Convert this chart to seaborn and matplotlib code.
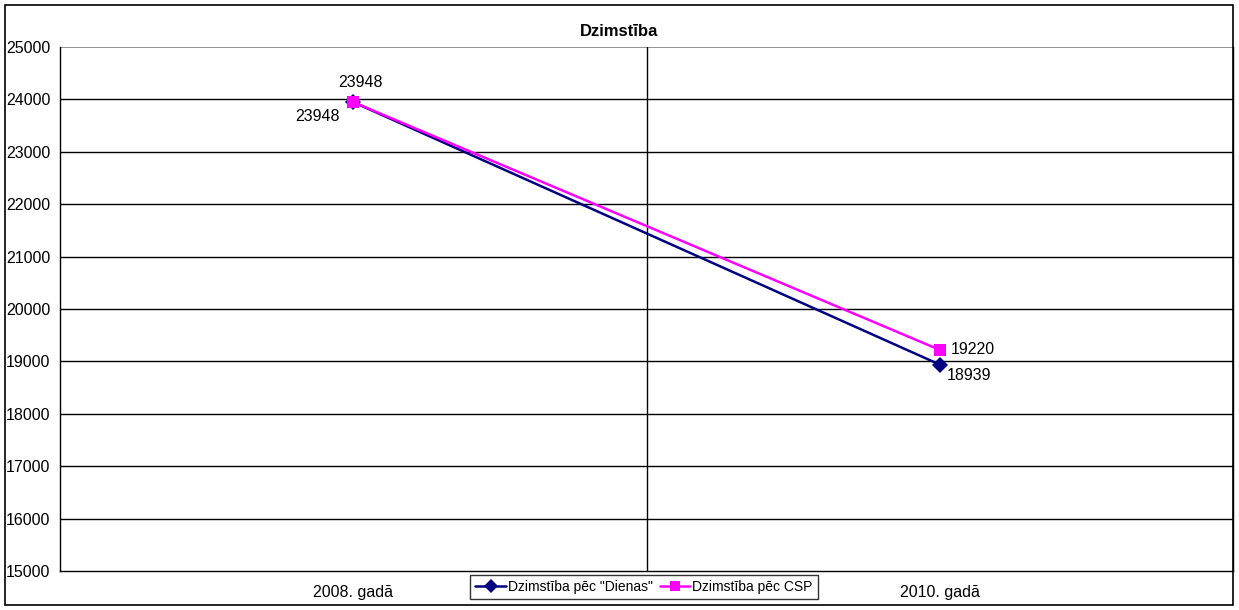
import matplotlib
matplotlib.use("Agg")
import matplotlib.pyplot as plt
import seaborn as sns
import pandas as pd
from matplotlib.patches import Rectangle
from matplotlib.lines import Line2D

categories = ["2008. gadā", "2010. gadā"]
dienas = [23948, 18939]
csp = [23948, 19220]
series_names = ['Dzimstība pēc "Dienas"', "Dzimstība pēc CSP"]
yticks = list(range(15000, 25001, 1000))

sns.set_theme(style="white")
plt.rcParams['font.family'] = ['Liberation Sans', 'DejaVu Sans']
plt.rcParams['text.color'] = 'black'
plt.rcParams['xtick.color'] = 'black'
plt.rcParams['ytick.color'] = 'black'
plt.rcParams['axes.labelcolor'] = 'black'

df = pd.DataFrame({
    "x": categories * 2,
    "y": dienas + csp,
    "s": [series_names[0]] * 2 + [series_names[1]] * 2,
})

W, H = 1239, 610
fig = plt.figure(figsize=(W / 100, H / 100), dpi=100)
fig.patch.set_facecolor("white")
fig.patches.append(Rectangle((5 / W, 5 / H), 1228 / W, 600 / H, transform=fig.transFigure,
                             fill=False, edgecolor="black", linewidth=1.2, zorder=0))

ax = fig.add_axes([60 / W, (H - 571) / H, (1233 - 60) / W, (571 - 47) / H])
ax.set_facecolor("white")

palette = {series_names[0]: "#000080", series_names[1]: "#FF00FF"}
markers = {series_names[0]: "D", series_names[1]: "s"}
sns.lineplot(data=df, x="x", y="y", hue="s", style="s", palette=palette,
             markers=markers, dashes=False, markersize=8, linewidth=1.8,
             markeredgewidth=0, ax=ax, legend=False, sort=False)

ax.set_xlim(-0.5, 1.5)
ax.set_ylim(15000, 25000)
ax.set_yticks(yticks)
ax.set_yticklabels([str(v) for v in yticks], fontsize=11.5)
ax.set_xticks([0, 1])
ax.set_xticklabels(categories, fontsize=11.5)
ax.tick_params(axis="y", direction="out", length=4, width=1, color="black", pad=3, labelcolor="black")
ax.tick_params(axis="x", length=0, pad=10, labelcolor="black")
ax.set_xlabel("")
ax.set_ylabel("")

for v in yticks[1:-1]:
    ax.axhline(v, color="black", linewidth=1, zorder=0.5)
ax.axhline(25000, color="#808080", linewidth=1.2, zorder=0.5)
ax.axvline(0.5, color="black", linewidth=1, zorder=0.5)

for side in ["left", "bottom", "right"]:
    ax.spines[side].set_visible(True)
    ax.spines[side].set_color("black")
    ax.spines[side].set_linewidth(1)
ax.spines["top"].set_visible(False)

# data labels
ax.annotate(str(dienas[0]), (0, dienas[0]), xytext=(-10, -10), textcoords="offset points",
            ha="right", va="center", fontsize=11.5, color="black")
ax.annotate(str(csp[0]), (0, csp[0]), xytext=(5, 14), textcoords="offset points",
            ha="center", va="center", fontsize=11.5, color="black")
ax.annotate(str(dienas[1]), (1, dienas[1]), xytext=(5, -8), textcoords="offset points",
            ha="left", va="center", fontsize=11.5, color="black")
ax.annotate(str(csp[1]), (1, csp[1]), xytext=(8, 0), textcoords="offset points",
            ha="left", va="center", fontsize=11.5, color="black")

fig.text(619.5 / W, (H - 31) / H, "Dzimstība", ha="center", va="center",
         fontsize=12, fontweight="bold", color="black")

handles = [Line2D([], [], color=palette[n], marker=markers[n], markersize=7,
                  markeredgewidth=0, linewidth=1.8) for n in series_names]
leg = fig.legend(handles, series_names, loc="center", bbox_to_anchor=(644 / W, (H - 587) / H),
                 ncol=2, frameon=True, fancybox=False, fontsize=10, handlelength=2.2,
                 handletextpad=0.15, columnspacing=0.5, borderpad=0.35, borderaxespad=0,
                 labelcolor="black")
leg.get_frame().set_edgecolor("black")
leg.get_frame().set_linewidth(1)

fig.savefig("out.png", dpi=100, facecolor="white")
